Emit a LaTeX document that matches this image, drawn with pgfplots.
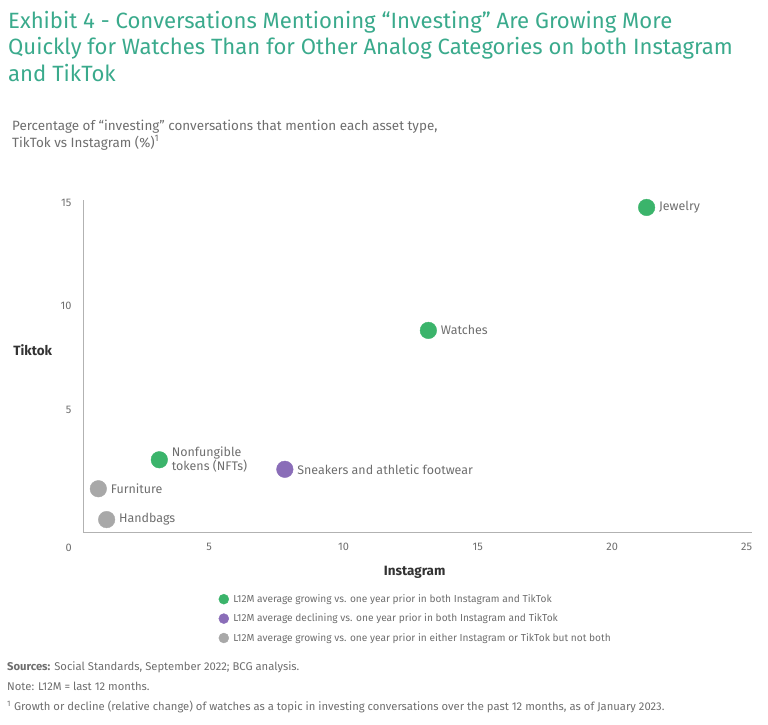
\documentclass[border=0pt]{standalone}
\usepackage{fontspec}
\setmainfont{Fira Sans}
\usepackage{pgfplots}
\pgfplotsset{compat=1.18}

\definecolor{titlegreen}{HTML}{3AAA8C}
\definecolor{dotgreen}{HTML}{3BB46B}
\definecolor{dotpurple}{HTML}{8A6DB8}
\definecolor{dotgray}{HTML}{A8A8A8}
\definecolor{txtgray}{HTML}{6E6E6E}
\definecolor{darktxt}{HTML}{333333}

\begin{document}
\begin{tikzpicture}
% page frame, 1 px = 1 bp
\path (0bp,0bp) rectangle (768bp,-725bp);

% title
\begin{scope}[every node/.style={anchor=base west, inner sep=0pt, text=titlegreen, font=\fontsize{22.2}{26}\selectfont}]
\node at (8bp,-28bp) {Exhibit 4 - Conversations Mentioning “Investing” Are Growing More};
\node at (8bp,-54.5bp) {Quickly for Watches Than for Other Analog Categories on both Instagram};
\node at (8bp,-81.5bp) {and TikTok};
\end{scope}

% subtitle
\begin{scope}[every node/.style={anchor=base west, inner sep=0pt, text=txtgray, font=\fontsize{13.5}{16}\selectfont}]
\node at (12bp,-130bp) {Percentage of “investing” conversations that mention each asset type,};
\node at (12bp,-147bp) {TikTok vs Instagram (\%)\textsuperscript{1}};
\end{scope}

\begin{axis}[
    at={(83bp,-532bp)}, anchor=south west,
    scale only axis, width=668.7bp, height=332bp,
    xmin=0.31, xmax=25.19, ymin=-0.91, ymax=15.13,
    axis lines=left,
    axis line style={draw=black!30, -},
    xtick={5,10,15,20,25}, ytick={5,10,15},
    major tick length=0pt,
    tick label style={text=txtgray, font=\fontsize{11}{13}\selectfont},
    /pgf/number format/assume math mode=true,
    xticklabel style={yshift=-8bp},
    yticklabel style={xshift=-8bp},
    xlabel={\textbf{Instagram}}, ylabel={\textbf{Tiktok}},
    label style={text=darktxt, font=\fontsize{13.5}{15}\selectfont},
    xlabel style={at={(axis description cs:0.496,-0.12)}, anchor=center},
    ylabel style={at={(axis description cs:-0.075,0.548)}, anchor=center, rotate=-90},
    clip=false,
    only marks, mark=*,
    mark size=8.3bp,
    point meta=explicit symbolic,
    nodes near coords,
    nodes near coords style={anchor=west, xshift=9bp, text=txtgray,
        font=\fontsize{12.5}{14}\selectfont, align=left},
    legend image code/.code={\fill[#1] (5bp,0bp) circle (5bp);
        \path[draw=none, fill=none] (0bp,-0.1bp) rectangle (13bp,0.1bp);},
    legend style={at={(axis description cs:0.2025,-0.183)}, anchor=north west,
        draw=none, fill=none, font=\fontsize{10.2}{12}\selectfont,
        text=txtgray, row sep=7bp, inner sep=0pt,
        nodes={inner sep=1.5bp}},
    legend cell align=left,
]
\addplot[dotgreen, mark options={draw=dotgreen, fill=dotgreen}] coordinates {
    (21.28,14.77) [Jewelry]
    (13.16,8.83) [Watches]
    (3.15,2.58) [{Nonfungible\\tokens (NFTs)}]
};
\addlegendentry{L12M average growing vs. one year prior in both Instagram and TikTok}
\addplot[dotpurple, mark options={draw=dotpurple, fill=dotpurple}] coordinates {
    (7.82,2.12) [Sneakers and athletic footwear]
};
\addlegendentry{L12M average declining vs. one year prior in both Instagram and TikTok}
\addplot[dotgray, mark options={draw=dotgray, fill=dotgray}] coordinates {
    (0.88,1.18) [Furniture]
    (1.19,-0.31) [Handbags]
};
\addlegendentry{L12M average growing vs. one year prior in either Instagram or TikTok but not both}
% the "0" tick sits left of the axis start
\node[text=txtgray, font=\fontsize{11}{13}\selectfont] at (axis cs:0,-0.91) [yshift=-16bp, xshift=-6bp] {0};
\end{axis}

% notes
\begin{scope}[every node/.style={anchor=base west, inner sep=0pt, text=txtgray, font=\fontsize{11.3}{13}\selectfont}]
\node at (7bp,-670bp) {\textbf{Sources:} Social Standards, September 2022; BCG analysis.};
\node at (7bp,-690bp) {Note: L12M = last 12 months.};
\node at (7bp,-710bp) {\textsuperscript{1} Growth or decline (relative change) of watches as a topic in investing conversations over the past 12 months, as of January 2023.};
\end{scope}
\end{tikzpicture}
\end{document}
